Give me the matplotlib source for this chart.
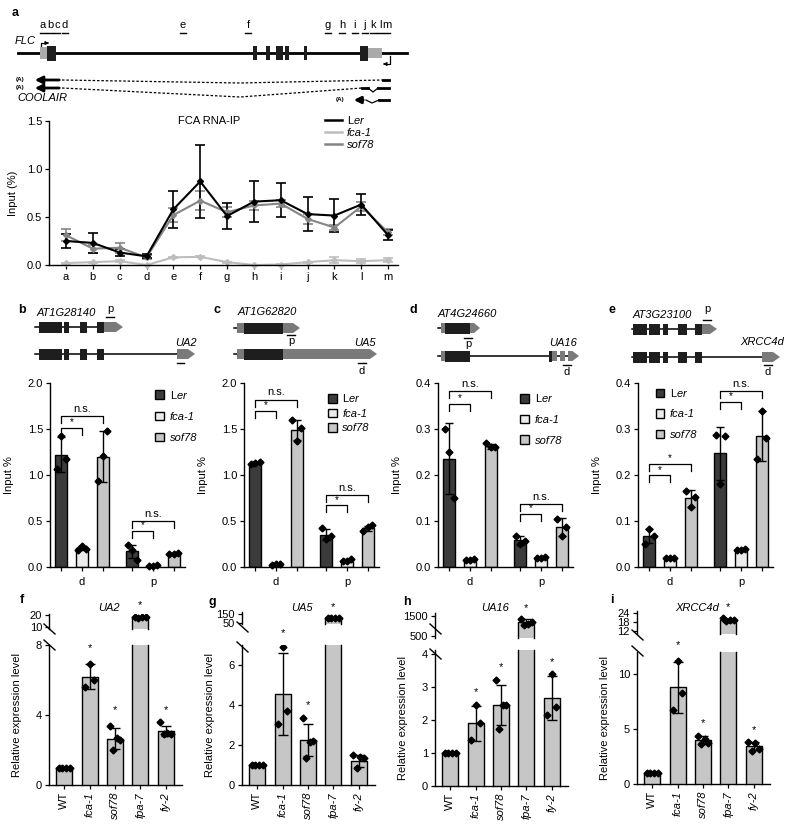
import numpy as np
import matplotlib
matplotlib.use('Agg')
import matplotlib.pyplot as plt
from matplotlib.patches import Rectangle, Polygon
from matplotlib.lines import Line2D
from matplotlib.transforms import blended_transform_factory

plt.rcParams['font.family'] = ['Liberation Sans', 'DejaVu Sans']
plt.rcParams['mathtext.fontset'] = 'custom'
plt.rcParams['mathtext.rm'] = 'Liberation Sans'
plt.rcParams['mathtext.it'] = 'Liberation Sans:italic'
plt.rcParams['font.size'] = 8
plt.rcParams['axes.linewidth'] = 1.0

# ---------------- data: panel a (FCA RNA-IP along FLC) ----------------
segments = list('abcdefghijklm')
ler_ip = [0.25, 0.23, 0.13, 0.09, 0.58, 0.87, 0.51, 0.66, 0.675, 0.53, 0.515, 0.63, 0.31]
ler_sd = [0.07, 0.10, 0.04, 0.02, 0.19, 0.38, 0.14, 0.21, 0.18, 0.18, 0.17, 0.11, 0.05]
fca_ip = [0.02, 0.03, 0.04, 0.00, 0.08, 0.085, 0.03, 0.00, 0.005, 0.03, 0.05, 0.04, 0.05]
fca_sd = [0.005, 0.005, 0.01, 0.005, 0.005, 0.005, 0.005, 0.005, 0.005, 0.005, 0.03, 0.02, 0.02]
sof_ip = [0.31, 0.17, 0.18, 0.08, 0.52, 0.67, 0.55, 0.62, 0.64, 0.48, 0.39, 0.61, 0.34]
sof_sd = [0.06, 0.04, 0.05, 0.02, 0.07, 0.10, 0.05, 0.05, 0.04, 0.05, 0.03, 0.05, 0.03]

# ---------------- data: panels b-e (RNA-IP at d / p) ----------------
ip_genotypes = [r'L$\mathit{er}$', 'fca-1', 'sof78']
regions = ['d', 'p']
b_mean = [[1.22, 0.21, 1.20], [0.17, 0.01, 0.14]]
b_sd = [[0.19, 0.02, 0.28], [0.07, 0.005, 0.01]]
b_pts = [[[1.42, 1.07, 1.17], [0.23, 0.19, 0.20], [1.21, 0.93, 1.48]],
         [[0.19, 0.24, 0.08], [0.01, 0.01, 0.02], [0.14, 0.14, 0.15]]]
c_mean = [[1.13, 0.03, 1.49], [0.35, 0.07, 0.42]]
c_sd = [[0.01, 0.005, 0.11], [0.06, 0.02, 0.03]]
c_pts = [[[1.13, 1.12, 1.14], [0.03, 0.02, 0.03], [1.37, 1.60, 1.51]],
         [[0.30, 0.42, 0.34], [0.07, 0.06, 0.09], [0.43, 0.39, 0.46]]]
d_mean = [[0.235, 0.016, 0.262], [0.058, 0.020, 0.087]]
d_sd = [[0.077, 0.002, 0.006], [0.010, 0.001, 0.020]]
d_pts = [[[0.25, 0.30, 0.15], [0.016, 0.015, 0.017], [0.26, 0.27, 0.26]],
         [[0.050, 0.068, 0.057], [0.020, 0.020, 0.021], [0.068, 0.105, 0.088]]]
e_mean = [[0.067, 0.019, 0.149], [0.247, 0.038, 0.285]]
e_sd = [[0.015, 0.002, 0.018], [0.057, 0.002, 0.055]]
e_pts = [[[0.082, 0.050, 0.068], [0.019, 0.020, 0.020], [0.130, 0.165, 0.153]],
         [[0.180, 0.286, 0.285], [0.038, 0.037, 0.040], [0.340, 0.235, 0.280]]]

# ---------------- data: panels f-i (relative expression) ----------------
mutants = ['WT', 'fca-1', 'sof78', 'fpa-7', 'fy-2']
f_mean = [1.0, 6.2, 2.65, 18.4, 3.1]
f_sd = [0.03, 0.7, 0.6, 0.5, 0.3]
f_pts = [[1, 1, 1, 1], [6.9, 5.6, 6.0], [3.4, 2.0, 2.7, 2.6], [18.3, 18.0, 18.7, 18.4], [3.6, 2.9, 3.0, 2.9]]
g_mean = [1.0, 4.55, 2.25, 105, 1.22]
g_sd = [0.03, 2.05, 0.8, 5, 0.3]
g_pts = [[1, 1, 1, 1], [6.9, 3.05, 3.7], [3.35, 1.35, 2.15, 2.2], [110, 100, 105, 103], [1.5, 0.85, 1.4, 1.35]]
h_mean = [1.0, 1.9, 2.45, 1200, 2.67]
h_sd = [0.02, 0.53, 0.6, 130, 0.67]
h_pts = [[1, 1, 1, 1], [2.45, 1.4, 1.9], [3.2, 1.72, 2.45, 2.45], [1350, 1050, 1100, 1200], [3.4, 2.15, 2.4]]
i_mean = [1.0, 8.8, 4.0, 19.3, 3.45]
i_sd = [0.05, 2.3, 0.4, 1.0, 0.4]
i_pts = [[1, 1, 1, 1], [11.2, 6.7, 8.3], [4.4, 3.6, 4.1, 3.7], [20.5, 18.5, 19.5, 19.0], [3.8, 3.0, 3.7, 3.2]]
f_star = [None, 7.8, 4.3, 28.5, 4.3]
g_star = [None, 7.6, 4.0, 228, None]
h_star = [None, 2.85, 3.6, 1900, 3.75]
i_star = [None, 12.6, 5.5, 28, 4.9]

W, H = 800, 832
fig = plt.figure(figsize=(W / 100, H / 100), dpi=100)


def box(x0, y0, x1, y1):
    return [x0 / W, 1 - y1 / H, (x1 - x0) / W, (y1 - y0) / H]


def style(ax):
    for s in ('top', 'right'):
        ax.spines[s].set_visible(False)
    ax.tick_params(direction='out', length=3, width=0.9, labelsize=8, pad=2)


# overlay in pixel coordinates for schematics and labels
ov = fig.add_axes([0, 0, 1, 1])
ov.set_xlim(0, W)
ov.set_ylim(H, 0)
ov.axis('off')

BLACK = '#1e1e1e'
UTR = '#7a7a7a'


def exon(x0, x1, y, h=5.5, c=BLACK):
    ov.add_patch(Rectangle((x0, y - h), x1 - x0, 2 * h, fc=c, ec='none', zorder=3))


def utr_arrow(x0, x1, y, h=5, c=UTR):
    tip = min(7, (x1 - x0) * 0.6)
    ov.add_patch(Polygon([(x0, y - h), (x1 - tip, y - h), (x1, y), (x1 - tip, y + h), (x0, y + h)],
                         closed=True, fc=c, ec='none', zorder=3))


def gline(x0, x1, y, lw=1.1):
    ov.plot([x0, x1], [y, y], color='black', lw=lw, zorder=2)


def tag(x, y, txt, **kw):
    ov.text(x, y, txt, ha='center', va='center', fontsize=8, **kw)


# ---- panel letters ----
for letter, x, y in [('a', 15, 13), ('b', 22, 310), ('c', 217, 310), ('d', 413, 310), ('e', 612, 310),
                     ('f', 22, 600), ('g', 212, 602), ('h', 407, 602), ('i', 612, 600)]:
    ov.text(x, y, letter, fontsize=9, fontweight='bold', ha='center', va='center')

# ---- panel a schematic ----
seg_x = [43, 50, 57, 65, 183, 248, 328, 342, 355, 365, 373, 380, 387]
gline(18, 407, 53, lw=2)
exon(40, 47, 53, h=6, c='#aaaaaa')
exon(47, 56, 53, h=7.5)
for x0, x1 in [(253, 257), (266, 270), (276, 283), (285, 289), (304, 307)]:
    exon(x0, x1, 53, h=7)
exon(360, 368, 53, h=7.5)
exon(368, 382, 53, h=5, c='#aaaaaa')
for s, x in zip(segments, seg_x):
    tag(x, 25, s)
    ov.plot([x - 3, x + 3], [33, 33], color='black', lw=1)
ov.text(15, 41, 'FLC', fontstyle='italic', fontsize=8, va='center')
ov.plot([41, 41, 46], [50, 43, 43], color='black', lw=0.9)
ov.annotate('', xy=(49, 43), xytext=(45, 43), arrowprops=dict(arrowstyle='-|>', lw=0.8, color='black', mutation_scale=5))
ov.plot([390, 390, 386], [56, 64, 64], color='black', lw=0.9)
ov.annotate('', xy=(383, 64), xytext=(387, 64), arrowprops=dict(arrowstyle='-|>', lw=0.8, color='black', mutation_scale=5))
for yy in (80, 88):
    ov.annotate('', xy=(32, yy), xytext=(62, yy),
                arrowprops=dict(arrowstyle='-|>', lw=2, color='black', mutation_scale=11))
    ov.text(24, yy, '(A)', fontsize=4.5, fontweight='bold', ha='right', va='center')
ov.plot([62, 240, 383], [80, 83, 80], color='black', lw=0.9, ls=(0, (2, 1.5)))
gline(383, 389, 80, lw=2)
ov.plot([62, 240, 362], [88, 97, 88], color='black', lw=0.9, ls=(0, (2, 1.5)))
ov.plot([362, 368], [88, 88], color='black', lw=2)
ov.plot([368, 373, 378], [88, 92, 88], color='black', lw=0.9)
ov.plot([378, 389], [88, 88], color='black', lw=2)
ov.annotate('', xy=(351, 100), xytext=(366, 100),
            arrowprops=dict(arrowstyle='-|>', lw=2, color='black', mutation_scale=10))
ov.plot([366, 372, 379], [100, 103, 100], color='black', lw=0.9)
ov.plot([379, 389], [100, 100], color='black', lw=2)
ov.text(344, 100, '(A)', fontsize=4.5, fontweight='bold', ha='right', va='center')
ov.text(17, 98, 'COOLAIR', fontstyle='italic', fontsize=8, va='center')

# ---- panel a chart ----
ax = fig.add_axes(box(49, 121, 398, 265))
style(ax)
xs = np.arange(len(segments))
series_a = [(sof_ip, sof_sd, '#858585'), (fca_ip, fca_sd, '#bdbdbd'), (ler_ip, ler_sd, 'black')]
for vals, sds, col in series_a:
    ax.errorbar(xs, vals, yerr=sds, color=col, lw=1.5, capsize=3.5, capthick=1.2, elinewidth=1.2,
                marker='D', ms=3, clip_on=False)
ax.set_xlim(-0.634, 12.37)
ax.set_ylim(0, 1.5)
ax.set_xticks(xs)
ax.set_xticklabels(segments)
ax.set_yticks([0, 0.5, 1.0, 1.5])
ax.set_yticklabels(['0.0', '0.5', '1.0', '1.5'])
ax.set_ylabel('Input (%)', fontsize=8)
ax.yaxis.set_label_coords(-0.09, 0.5)
ax.text(0.46, 1.0, 'FCA RNA-IP', transform=ax.transAxes, ha='center', va='center', fontsize=8)
line_handles = [Line2D([], [], color=c, lw=1.8) for c in ('black', '#bdbdbd', '#858585')]
leg = ax.legend(line_handles, ip_genotypes, loc='upper left',
                bbox_to_anchor=(0.79, 1.05), frameon=False, handlelength=1.6, fontsize=8,
                labelspacing=0.2, borderpad=0, borderaxespad=0, handletextpad=0.4)
for t in leg.get_texts()[1:]:
    t.set_fontstyle('italic')

# ---- panels b-e schematics ----
# b: AT1G28140 / UA2
b_ex = [(39, 62), (64, 69), (80, 87), (97, 104)]
for yy, end in [(327, 123), (354, 195)]:
    gline(35, end - 10, yy)
    for x0, x1 in b_ex:
        exon(x0, x1, yy)
utr_arrow(104, 123, 327)
utr_arrow(177, 195, 354)
ov.text(37, 313, 'AT1G28140', fontstyle='italic', fontsize=8, va='center')
tag(110, 309, 'p')
ov.plot([106, 114], [317, 317], color='black', lw=1)
tag(186, 343, 'UA2', fontstyle='italic')
ov.plot([177, 184], [363, 363], color='black', lw=1)

# c: AT1G62820 / UA5
for yy, end in [(328, 300), (354, 377)]:
    gline(234, 240, yy)
    exon(237, 244, yy, h=5, c=UTR)
    exon(244, 283, yy)
    utr_arrow(283, end, yy)
ov.text(238, 312, 'AT1G62820', fontstyle='italic', fontsize=8, va='center')
ov.plot([287, 295], [335, 335], color='black', lw=1)
tag(291, 341, 'p')
tag(365, 343, 'UA5', fontstyle='italic')
ov.plot([358, 366], [363, 363], color='black', lw=1)
tag(362, 371, 'd')

# d: AT4G24660 / UA16
for yy in (328, 356):
    gline(438, 444, yy)
    exon(441, 445, yy, h=5, c=UTR)
    exon(445, 470, yy)
utr_arrow(470, 480, 328)
gline(470, 572, 356)
exon(549, 552, 356)
exon(552, 557, 356, h=5, c=UTR)
exon(560, 565, 356, h=5, c=UTR)
utr_arrow(568, 579, 356)
ov.text(438, 314, 'AT4G24660', fontstyle='italic', fontsize=8, va='center')
ov.plot([464, 472], [338, 338], color='black', lw=1)
tag(468, 344, 'p')
tag(563, 343, 'UA16', fontstyle='italic')
ov.plot([563, 571], [365, 365], color='black', lw=1)
tag(567, 372, 'd')

# e: AT3G23100 / XRCC4d
e_ex = [(633, 647), (649, 660), (663, 668), (678, 687), (695, 702)]
for yy, end in [(329, 717), (357, 780)]:
    gline(632, end - 8, yy)
    for x0, x1 in e_ex:
        exon(x0, x1, yy)
utr_arrow(702, 717, 329)
utr_arrow(762, 780, 357)
ov.text(633, 315, 'AT3G23100', fontstyle='italic', fontsize=8, va='center')
tag(707, 309, 'p')
ov.plot([703, 711], [320, 320], color='black', lw=1)
tag(762, 342, 'XRCC4d', fontstyle='italic')
ov.plot([764, 772], [365, 365], color='black', lw=1)
tag(768, 372, 'd')

# ---- panels b-e charts ----
ip_colors = ['#3b3b3b', '#ececec', '#c6c6c6']
offs = [-0.29, 0.0, 0.29]
jit3 = [0.0, -0.06, 0.06]


def bracket(ax, x1, x2, y, txt, leg):
    ax.plot([x1, x1, x2, x2], [y - leg, y, y, y - leg], color='black', lw=0.9, clip_on=False)
    if txt == '*':
        ax.text((x1 + x2) / 2, y + leg * 0.1, txt, ha='center', va='bottom', fontsize=7)
    else:
        ax.text((x1 + x2) / 2, y + leg * 0.3, txt, ha='center', va='bottom', fontsize=8)


def ip_panel(left, mean, sd, pts, brackets, ymax, yticks, fmt, leg_xy, leg_sp):
    ax = fig.add_axes(box(left, 383, left + 135, 567))
    style(ax)
    for g in range(2):
        for k in range(3):
            x = g + offs[k]
            ax.bar(x, mean[g][k], width=0.17, color=ip_colors[k], edgecolor='black', lw=1, zorder=2)
            ax.errorbar(x, mean[g][k], yerr=sd[g][k], color='black', capsize=3, lw=1,
                        capthick=1, zorder=3)
            p = pts[g][k]
            ax.plot(x + np.array(jit3[:len(p)]), p, 'D', ms=3.5, color='black', zorder=4, clip_on=False)
    ax.set_xlim(-0.45, 1.45)
    ax.set_ylim(0, ymax)
    ax.set_xticks([g + o for g in range(2) for o in offs])
    ax.set_xticklabels([])
    tr = blended_transform_factory(ax.transData, ax.transAxes)
    for g, r in enumerate(regions):
        ax.text(g, -0.08, r, transform=tr, ha='center', va='center', fontsize=8)
    ax.set_yticks(yticks)
    ax.set_yticklabels([fmt.format(v) for v in yticks])
    ax.set_ylabel('Input %', fontsize=8)
    ax.yaxis.set_label_coords(-0.27, 0.5)
    leg = 0.038 * ymax
    for g, i, j, y, txt in brackets:
        bracket(ax, g + offs[i], g + offs[j], y, txt, leg)
    handles = [Rectangle((0, 0), 1, 1, fc=c, ec='black', lw=1) for c in ip_colors]
    lg = ax.legend(handles, ip_genotypes, loc='upper left', bbox_to_anchor=leg_xy, frameon=False,
                   handlelength=0.8, handleheight=0.8, labelspacing=leg_sp, handletextpad=0.5,
                   borderpad=0, borderaxespad=0, fontsize=8)
    for t in lg.get_texts()[1:]:
        t.set_fontstyle('italic')
    return ax


ip_panel(50, b_mean, b_sd, b_pts,
         [(0, 0, 2, 1.64, 'n.s.'), (0, 0, 1, 1.51, '*'), (1, 0, 2, 0.50, 'n.s.'), (1, 0, 1, 0.39, '*')],
         2.0, [0, 0.5, 1.0, 1.5, 2.0], '{:.1f}', (0.78, 0.97), 1.0)
ip_panel(244, c_mean, c_sd, c_pts,
         [(0, 0, 2, 1.82, 'n.s.'), (0, 0, 1, 1.70, '*'), (1, 0, 2, 0.78, 'n.s.'), (1, 0, 1, 0.67, '*')],
         2.0, [0, 0.5, 1.0, 1.5, 2.0], '{:.1f}', (0.62, 0.95), 0.4)
ip_panel(438, d_mean, d_sd, d_pts,
         [(0, 0, 2, 0.383, 'n.s.'), (0, 0, 1, 0.355, '*'), (1, 0, 2, 0.137, 'n.s.'), (1, 0, 1, 0.115, '*')],
         0.4, [0, 0.1, 0.2, 0.3, 0.4], '{:.1f}', (0.61, 0.95), 0.95)
ip_panel(638, e_mean, e_sd, e_pts,
         [(0, 0, 2, 0.224, '*'), (0, 0, 1, 0.199, '*'), (1, 0, 2, 0.383, 'n.s.'), (1, 0, 1, 0.359, '*')],
         0.4, [0, 0.1, 0.2, 0.3, 0.4], '{:.1f}', (0.13, 0.98), 0.95)

# ---- panels f-i ----
expr_color = '#c6c6c6'
jit = {3: [0.0, -0.17, 0.17], 4: [-0.21, -0.07, 0.07, 0.21]}
BW = 0.63


def open_bar(a, x, lo, hi, top_edge):
    # bar drawn only between lo and hi with an outline that is open where the axis is broken
    a.bar(x, hi - lo, bottom=lo, width=BW, color=expr_color, edgecolor='none', zorder=2)
    if top_edge:
        a.plot([x - BW / 2, x - BW / 2, x + BW / 2, x + BW / 2], [lo, hi, hi, lo],
               color='black', lw=1, zorder=2.5, clip_on=False)
    else:
        a.plot([x - BW / 2, x - BW / 2], [lo, hi], color='black', lw=1, zorder=2.5, clip_on=False)
        a.plot([x + BW / 2, x + BW / 2], [lo, hi], color='black', lw=1, zorder=2.5, clip_on=False)


def reps(a, x, m, s, p):
    a.errorbar([x], [m], yerr=[s], fmt='none', ecolor='black', capsize=3.5, lw=1, capthick=1, zorder=3)
    a.plot(x + np.array(jit[len(p)]), p, 'D', ms=3.5, color='black', zorder=4)


def expr_panel(left, gene, mean, sd, pts, stars, low, up, breaks):
    low_top, low_bot, low_lim, low_ticks = low
    up_top, up_bot, up_lim, up_ticks = up
    xs = np.arange(len(mutants))
    axl = fig.add_axes(box(left, low_top, left + 133, low_bot))
    axu = fig.add_axes(box(left, up_top, left + 133, up_bot))
    for x, m, s, p in zip(xs, mean, sd, pts):
        if m > low_lim[1]:
            open_bar(axl, x, 0, low_lim[1], False)
            open_bar(axu, x, up_lim[0], m, True)
            reps(axu, x, m, s, p)
        else:
            open_bar(axl, x, 0, m, True)
            reps(axl, x, m, s, p)
    for a in (axl, axu):
        style(a)
        a.set_xlim(-0.6, 4.65)
        a.patch.set_alpha(0)
    axl.set_ylim(*low_lim)
    axl.set_yticks(low_ticks)
    axl.set_xticks(xs)
    axl.set_xticklabels(mutants, rotation=90)
    for t in axl.get_xticklabels()[1:]:
        t.set_fontstyle('italic')
    axl.set_ylabel('Relative expression level', fontsize=8)
    axl.yaxis.set_label_coords(-0.2, 0.5)
    axu.set_ylim(*up_lim)
    axu.set_yticks(up_ticks)
    axu.spines['bottom'].set_visible(False)
    axu.set_xticks([])
    for k, s in enumerate(stars):
        if s is None:
            continue
        target = axu if mean[k] > low_lim[1] else axl
        target.text(k, s, '*', ha='center', va='center', fontsize=8, clip_on=False)
    for yc in breaks:
        ov.plot([left - 5, left + 6], [yc - 5, yc + 5], color='black', lw=1, zorder=5)
    ov.text(left + 60, 608, gene, fontstyle='italic', fontsize=8, ha='center', va='center')


expr_panel(49, 'UA2', f_mean, f_sd, f_pts, f_star, (645, 785, (0, 8), [0, 4, 8]),
           (614, 629, (8.5, 21), [10, 20]), (629, 645))
expr_panel(242, 'UA5', g_mean, g_sd, g_pts, g_star, (645, 785, (0, 7), [0, 2, 4, 6]),
           (612, 624, (39, 172), [50, 150]), (627, 647))
expr_panel(435, 'UA16', h_mean, h_sd, h_pts, h_star, (650, 786, (0, 4.12), [0, 1, 2, 3, 4]),
           (613, 638, (400, 1650), [500, 1500]), (629, 654))
expr_panel(637, 'XRCC4d', i_mean, i_sd, i_pts, i_star, (652, 784, (0, 12), [0, 5, 10]),
           (611, 634, (10, 25.3), [12, 18, 24]), (635, 651))

fig.savefig('out.png', dpi=100)
